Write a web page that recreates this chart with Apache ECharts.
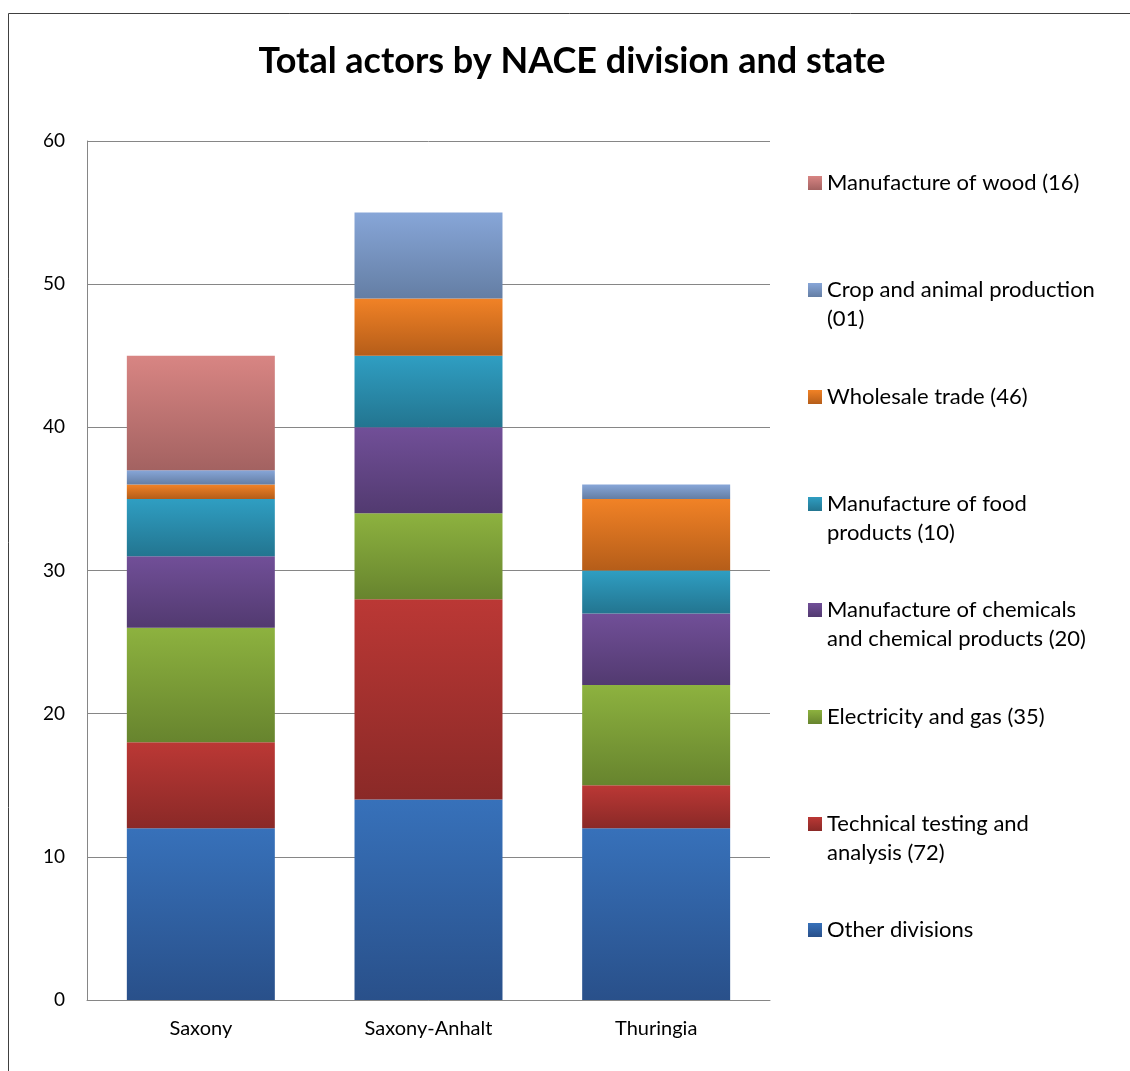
<!DOCTYPE html>
<html>
<head>
<meta charset="utf-8">
<script src="https://cdn.jsdelivr.net/npm/echarts@6/dist/echarts.min.js"></script>
<style>html,body{margin:0;padding:0;background:#fff}#c{width:1130px;height:1071px}</style>
</head>
<body>
<div id="c"></div>
<script>
var categories = ['Saxony', 'Saxony-Anhalt', 'Thuringia'];
var seriesNames = ['Other divisions', 'Technical testing and analysis (72)', 'Electricity and gas (35)', 'Manufacture of chemicals and chemical products (20)', 'Manufacture of food products (10)', 'Wholesale trade (46)', 'Crop and animal production (01)', 'Manufacture of wood (16)'];
var legendLabels = ['Other divisions', 'Technical testing and\nanalysis (72)', 'Electricity and gas (35)', 'Manufacture of chemicals\nand chemical products (20)', 'Manufacture of food\nproducts (10)', 'Wholesale trade (46)', 'Crop and animal production\n(01)', 'Manufacture of wood (16)'];
var otherDivisions = [12, 14, 12];
var technicalTesting = [6, 14, 3];
var electricityGas = [8, 6, 7];
var chemicals = [5, 6, 5];
var foodProducts = [4, 5, 3];
var wholesaleTrade = [1, 4, 5];
var cropAnimal = [1, 6, 1];
var wood = [8, 0, 0];
var yTicks = [0, 10, 20, 30, 40, 50, 60];

var values = [otherDivisions, technicalTesting, electricityGas, chemicals, foodProducts, wholesaleTrade, cropAnimal, wood];
var colorPairs = [
  ['#3771ba', '#29508a'],
  ['#bb3835', '#8a2927'],
  ['#8db23f', '#67842e'],
  ['#714f98', '#523a70'],
  ['#2f9ec2', '#237590'],
  ['#f18226', '#b55d19'],
  ['#87a6d8', '#647ea4'],
  ['#d88583', '#a36261']
];
function grad(p) {
  return new echarts.graphic.LinearGradient(0, 0, 0, 1, [{offset: 0, color: p[0]}, {offset: 1, color: p[1]}]);
}
var font = 'Lato, "Open Sans", sans-serif';
var series = seriesNames.map(function (n, i) {
  return {
    name: n, type: 'bar', stack: 'total', barWidth: '65%',
    data: values[i],
    itemStyle: {color: grad(colorPairs[i])},
    emphasis: {disabled: true}
  };
});
// legend: one component per item, top item = last series
var centers = [930, 824, 717, 610, 504, 397, 290, 183];
var lh = 29;
var legends = seriesNames.map(function (n, i) {
  var lines = legendLabels[i].split('\n');
  var n2 = lines.length;
  // pad with blank lines above so the first line is centred on the icon
  var txt = legendLabels[i];
  for (var k = 1; k < n2; k++) txt = ' \n' + txt;
  return {
    data: [n], orient: 'vertical', left: 808, top: centers[i] - (2 * n2 - 1) * lh / 2,
    padding: 0, icon: 'rect', itemWidth: 14, itemHeight: 14,
    selectedMode: false,
    formatter: function () { return txt; },
    textStyle: {fontFamily: font, fontSize: 22, color: '#000', lineHeight: lh}
  };
});
var chart = echarts.init(document.getElementById('c'));
chart.setOption({
  animation: false,
  backgroundColor: '#fff',
  title: {text: 'Total actors by NACE division and state', left: 567, textAlign: 'center', top: 38,
    textStyle: {fontFamily: font, fontSize: 36, fontWeight: 'bold', color: '#000'}},
  graphic: [{type: 'rect', shape: {x: 8.5, y: 13.5, width: 1200, height: 1200}, style: {fill: 'none', stroke: '#404040', lineWidth: 1}, silent: true}],
  legend: legends,
  grid: {left: 87, right: 360, top: 141, bottom: 71},
  xAxis: {type: 'category', data: categories,
    axisLine: {show: true, lineStyle: {color: '#868686'}}, axisTick: {show: false},
    axisLabel: {fontFamily: font, fontSize: 20, color: '#000', margin: 19}},
  yAxis: {type: 'value', min: yTicks[0], max: yTicks[yTicks.length - 1], interval: 10,
    axisLine: {show: true, lineStyle: {color: '#868686'}}, axisTick: {show: false},
    splitLine: {lineStyle: {color: '#868686'}},
    axisLabel: {fontFamily: font, fontSize: 19, color: '#000', margin: 22}},
  series: series
});
</script>
</body>
</html>
